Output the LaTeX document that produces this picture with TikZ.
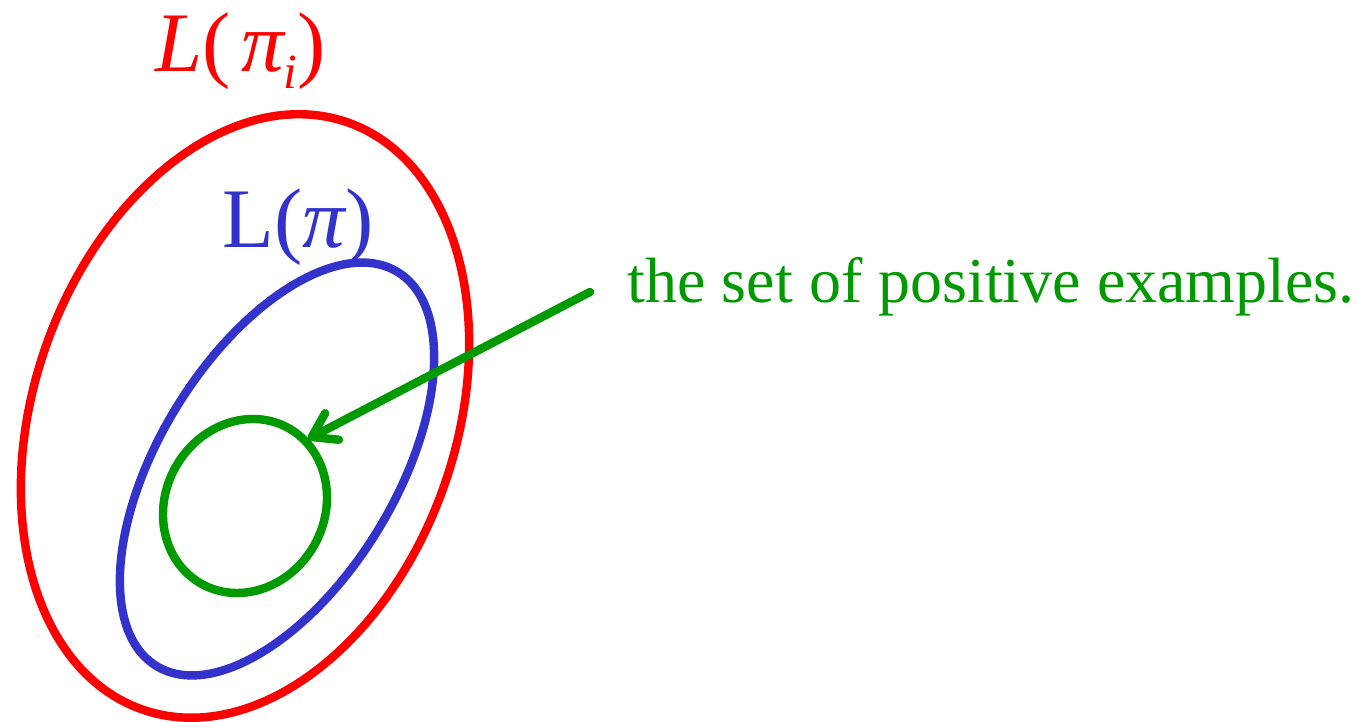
\documentclass[tikz,border=0pt]{standalone}
\usepackage{fontspec}
\setmainfont{Liberation Serif}
\usetikzlibrary{arrows.meta}
\definecolor{setred}{RGB}{255,0,0}
\definecolor{setblue}{RGB}{51,51,204}
\definecolor{setgreen}{RGB}{0,153,0}
\tikzset{
  setcurve/.style={line width=2.4pt},
  biglabel/.style={inner sep=0pt, anchor=base west, font=\fontsize{24.1pt}{26pt}\selectfont},
  notelabel/.style={inner sep=0pt, anchor=base west, text=setgreen, font=\fontsize{18.2pt}{20pt}\selectfont},
  pointer/.style={draw=setgreen, line width=2.4pt, line cap=round, -{Straight Barb[length=6.5pt,width=8.5pt,round]}}
}
\begin{document}
\begin{tikzpicture}[x=0.01cm,y=-0.01cm]
\useasboundingbox (0,0) rectangle (1358,722);
\coordinate (redc) at (245,416);
\coordinate (bluec) at (277,469);
\coordinate (greenc) at (245,506);
% outer set L(pi_i)
\draw[setcurve, setred, rotate around={-19.3:(redc)}] (redc) ellipse [x radius=211, y radius=311];
% inner set L(pi)
\draw[setcurve, setblue, rotate around={-31.5:(bluec)}] (bluec) ellipse [x radius=118, y radius=231];
% positive examples
\draw[setcurve, setgreen, rotate around={-29.3:(greenc)}] (greenc) ellipse [x radius=79.6, y radius=89.2];
% labels
\node[biglabel, text=setred] (redlabel) at (155,72)
  {\itshape L\upshape(\hspace{0.12em}\itshape π\raisebox{-4.8pt}{\fontsize{14pt}{14pt}\selectfont\itshape i}\upshape)};
\node[biglabel, text=setblue] (bluelabel) at (222,248)
  {L(\itshape π\upshape)};
\node[notelabel] (notelabel) at (627,303) {the set of positive examples.};
% arrow
\coordinate (arrowstart) at (590,292);
\coordinate (arrowtip) at (308,439);
\draw[pointer] (arrowstart) -- (arrowtip);
\end{tikzpicture}
\end{document}
